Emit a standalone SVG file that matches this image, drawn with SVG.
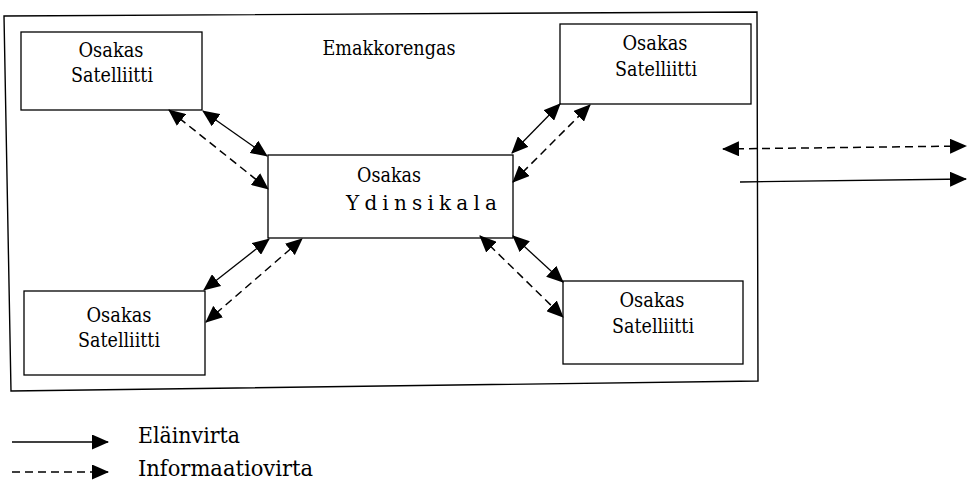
<svg xmlns="http://www.w3.org/2000/svg" width="967" height="483" viewBox="0 0 967 483">
  <style>
    text { font-family: "DejaVu Serif", "Liberation Serif", "Noto Serif", serif; fill: #000; }
    .box { fill: #fff; stroke: #000; stroke-width: 1.3; }
    .frame { fill: none; stroke: #000; stroke-width: 1.4; }
    .lbl { font-size: 20px; text-anchor: middle; }
    .leg { font-size: 22px; }
    .solid { fill: none; stroke: #000; stroke-width: 1.3; }
    .dash { fill: none; stroke: #000; stroke-width: 1.5; stroke-dasharray: 8 5; }
    .both { marker-start: url(#head); marker-end: url(#head); }
    .one { marker-end: url(#head); }
  </style>
  <defs>
    <marker id="head" viewBox="0 0 17 15" refX="16" refY="7.5" markerWidth="17" markerHeight="15" markerUnits="userSpaceOnUse" orient="auto-start-reverse">
      <path d="M0,0 L17,7.5 L0,15 z" fill="#000"/>
    </marker>
  </defs>
  <rect width="967" height="483" fill="#fff"/>

  <!-- outer frame: the parent enterprise -->
  <g id="emakkorengas">
    <polygon class="frame" points="4,16 757,12 758,381 11,391"/>
    <text class="lbl" x="389" y="55" textLength="133" lengthAdjust="spacingAndGlyphs">Emakkorengas</text>
  </g>

  <g id="satellite-top-left">
    <rect class="box" x="21" y="32" width="181" height="78"/>
    <text class="lbl" x="111" y="57" textLength="65" lengthAdjust="spacingAndGlyphs">Osakas</text>
    <text class="lbl" x="112" y="82" textLength="82" lengthAdjust="spacingAndGlyphs">Satelliitti</text>
  </g>

  <g id="satellite-top-right">
    <rect class="box" x="560" y="24" width="191" height="80"/>
    <text class="lbl" x="655" y="50" textLength="65" lengthAdjust="spacingAndGlyphs">Osakas</text>
    <text class="lbl" x="656" y="76" textLength="82" lengthAdjust="spacingAndGlyphs">Satelliitti</text>
  </g>

  <g id="core">
    <rect class="box" x="268" y="155" width="245" height="83"/>
    <text class="lbl" x="389" y="182" textLength="64" lengthAdjust="spacingAndGlyphs">Osakas</text>
    <text class="lbl" x="346" y="210" style="text-anchor:start" textLength="151" lengthAdjust="spacing">Ydinsikala</text>
  </g>

  <g id="satellite-bottom-left">
    <rect class="box" x="24" y="291" width="181" height="84"/>
    <text class="lbl" x="119" y="322" textLength="65" lengthAdjust="spacingAndGlyphs">Osakas</text>
    <text class="lbl" x="119" y="347" textLength="82" lengthAdjust="spacingAndGlyphs">Satelliitti</text>
  </g>

  <g id="satellite-bottom-right">
    <rect class="box" x="563" y="281" width="180" height="83"/>
    <text class="lbl" x="652" y="307" textLength="65" lengthAdjust="spacingAndGlyphs">Osakas</text>
    <text class="lbl" x="653" y="333" textLength="82" lengthAdjust="spacingAndGlyphs">Satelliitti</text>
  </g>

  <g id="connectors">
    <line class="solid both" x1="203" y1="111" x2="267" y2="156"/>
    <line class="dash both" x1="169" y1="110" x2="268" y2="189"/>
    <line class="solid both" x1="512" y1="153" x2="560" y2="104"/>
    <line class="dash both" x1="513" y1="182" x2="590" y2="105"/>
    <line class="solid both" x1="204" y1="290" x2="269" y2="239"/>
    <line class="dash both" x1="206" y1="322" x2="302" y2="239"/>
    <line class="solid both" x1="513" y1="236" x2="563" y2="282"/>
    <line class="dash both" x1="480" y1="236" x2="563" y2="317"/>
    <line class="dash both" x1="723" y1="149" x2="966" y2="146"/>
    <line class="solid one" x1="740" y1="182" x2="966" y2="179"/>
  </g>

  <g id="legend">
    <line class="solid one" x1="12" y1="442" x2="108" y2="442"/>
    <text class="leg" x="138" y="443" textLength="102" lengthAdjust="spacingAndGlyphs">Eläinvirta</text>
    <line class="dash one" x1="12" y1="472" x2="108" y2="472"/>
    <text class="leg" x="138" y="476" textLength="175" lengthAdjust="spacingAndGlyphs">Informaatiovirta</text>
  </g>
</svg>
